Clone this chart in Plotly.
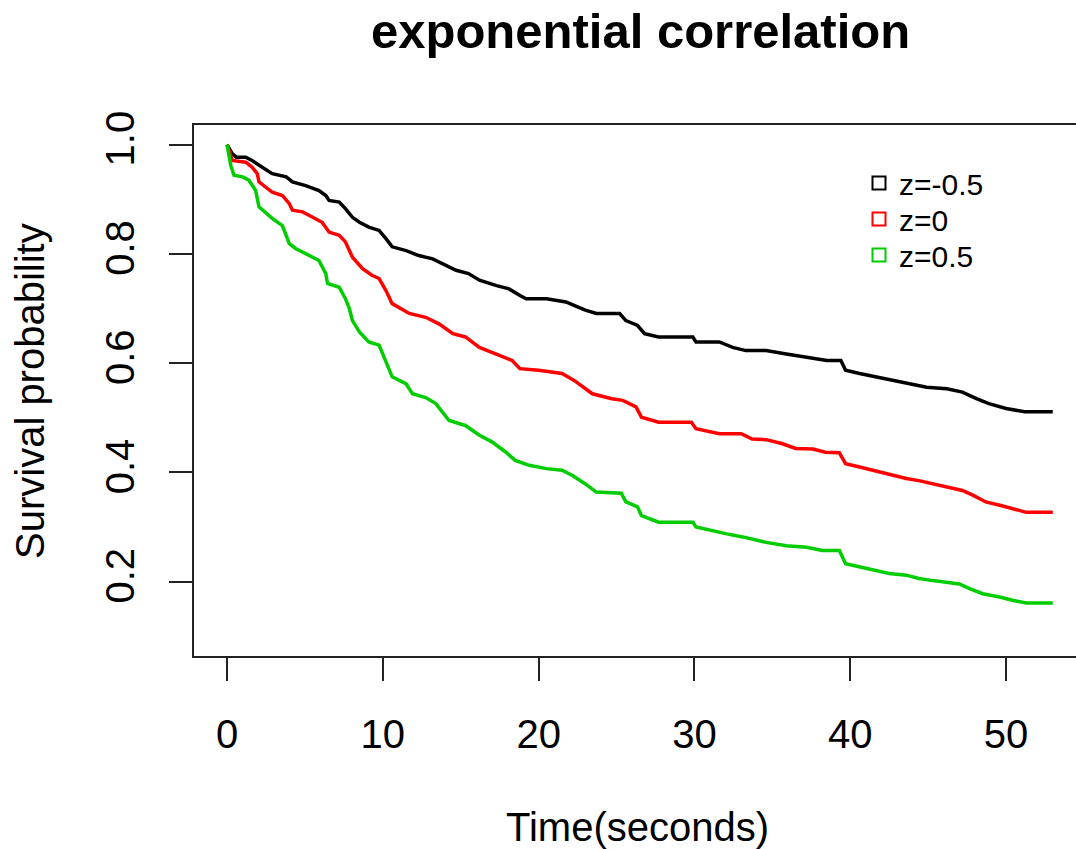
import plotly.graph_objects as go

# ---------------- data ----------------
t_neg = [0, 0.34, 0.6, 1.2, 1.6, 2.06, 2.5, 2.9, 3.8, 4.2, 5.05, 5.9, 6.34, 6.55, 7.2, 7.6,
         8.05, 8.5, 9.1, 9.76, 10.2, 10.6, 11.5, 12.3, 13.2, 14.05, 14.7, 15.5, 16.2, 17.3,
         18.1, 18.8, 19.2, 20.5, 21.75, 22.5, 23.0, 23.7, 25.2, 25.6, 26.35, 26.8, 27.7,
         29.9, 30.1, 31.6, 32.45, 33.3, 34.6, 35.9, 37.2, 38.5, 39.4, 39.7, 40.6, 41.7,
         42.7, 43.8, 44.9, 46.2, 47.2, 48.1, 48.9, 50.0, 51.2, 53.0]
s_neg = [1.0, 0.983, 0.977, 0.977, 0.971, 0.962, 0.953, 0.947, 0.941, 0.932, 0.925, 0.916,
         0.907, 0.898, 0.895, 0.883, 0.867, 0.858, 0.849, 0.843, 0.828, 0.813, 0.806, 0.797,
         0.791, 0.779, 0.770, 0.764, 0.752, 0.742, 0.736, 0.724, 0.718, 0.718, 0.712, 0.703,
         0.697, 0.691, 0.691, 0.678, 0.669, 0.654, 0.648, 0.648, 0.639, 0.639, 0.629, 0.623,
         0.623, 0.617, 0.611, 0.605, 0.605, 0.587, 0.581, 0.575, 0.568, 0.562, 0.556, 0.553,
         0.547, 0.535, 0.526, 0.517, 0.511, 0.511]

t_zero = [0, 0.34, 1.2, 1.6, 1.94, 2.05, 2.5, 2.9, 3.55, 4.0, 4.2, 4.85, 5.5, 6.1, 6.55, 7.2,
          7.6, 8.05, 8.7, 9.3, 9.76, 10.2, 10.6, 11.7, 12.75, 13.6, 14.5, 15.3, 16.2, 17.3,
          18.3, 18.8, 20.0, 21.5, 22.3, 23.45, 24.7, 25.4, 26.25, 26.6, 27.7, 29.8, 30.1,
          31.6, 33.0, 33.7, 34.6, 35.6, 36.5, 37.6, 38.4, 39.3, 39.7, 40.6, 41.9, 42.7, 43.6,
          44.4, 45.3, 46.4, 47.2, 47.9, 48.7, 49.6, 50.4, 51.3, 53.0]
s_zero = [1.0, 0.971, 0.968, 0.959, 0.947, 0.932, 0.922, 0.913, 0.907, 0.892, 0.880, 0.877,
          0.867, 0.858, 0.840, 0.834, 0.822, 0.794, 0.773, 0.761, 0.755, 0.733, 0.709, 0.691,
          0.684, 0.672, 0.654, 0.648, 0.629, 0.617, 0.605, 0.590, 0.587, 0.581, 0.568, 0.544,
          0.535, 0.532, 0.520, 0.501, 0.492, 0.492, 0.480, 0.471, 0.471, 0.461, 0.460, 0.453,
          0.444, 0.443, 0.437, 0.436, 0.416, 0.410, 0.401, 0.395, 0.389, 0.385, 0.379, 0.373,
          0.367, 0.358, 0.346, 0.340, 0.334, 0.327, 0.327]

t_pos = [0, 0.1, 0.24, 0.45, 1.0, 1.4, 1.84, 2.05, 2.5, 2.9, 3.55, 4.0, 4.4, 5.05, 5.9, 6.34,
         6.45, 7.2, 7.6, 7.85, 8.05, 8.5, 9.1, 9.76, 10.2, 10.6, 11.5, 11.9, 12.75, 13.4,
         14.25, 15.3, 16.2, 17.0, 17.9, 18.5, 19.4, 20.5, 21.5, 22.2, 23.0, 23.7, 25.3, 25.6,
         26.35, 26.6, 27.7, 29.9, 30.1, 30.95, 32.0, 33.1, 34.6, 35.9, 37.2, 38.2, 39.3,
         39.7, 40.6, 41.7, 42.5, 43.6, 44.4, 45.3, 46.4, 47.0, 47.7, 48.5, 49.6, 50.4, 51.3,
         53.0]
s_pos = [1.0, 0.984, 0.962, 0.944, 0.941, 0.935, 0.916, 0.886, 0.874, 0.865, 0.852, 0.819,
         0.810, 0.800, 0.788, 0.764, 0.746, 0.739, 0.718, 0.700, 0.678, 0.657, 0.639, 0.633,
         0.602, 0.575, 0.562, 0.544, 0.537, 0.526, 0.495, 0.486, 0.468, 0.456, 0.437, 0.422,
         0.413, 0.407, 0.404, 0.394, 0.379, 0.364, 0.362, 0.346, 0.337, 0.321, 0.309, 0.309,
         0.300, 0.294, 0.288, 0.282, 0.272, 0.266, 0.263, 0.257, 0.257, 0.233, 0.227, 0.221,
         0.215, 0.212, 0.206, 0.202, 0.199, 0.196, 0.187, 0.178, 0.172, 0.166, 0.161, 0.161]

series_names = ["z=-0.5", "z=0", "z=0.5"]
series_colors = ["#000000", "#FF0000", "#00CD00"]
x_ticks = [0, 10, 20, 30, 40, 50]
y_ticks = [0.2, 0.4, 0.6, 0.8, 1.0]
y_tick_text = ["0.2", "0.4", "0.6", "0.8", "1.0"]

title_text = "exponential correlation"
x_title = "Time(seconds)"
y_title = "Survival probability"

# ---------------- figure ----------------
W, H = 1076, 849
ML, MR, MT, MB = 194, 0, 125, 193
PW, PH = W - ML - MR, H - MT - MB

def px_x(px):
    return (px - ML) / PW

def px_y(py):
    return (H - MB - py) / PH

FONT = "Liberation Sans, Arial, sans-serif"
LEG_FONT = dict(family=FONT, size=30, color="#000000")

fig = go.Figure()
for t, s, name, col in zip([t_neg, t_zero, t_pos], [s_neg, s_zero, s_pos],
                           series_names, series_colors):
    fig.add_trace(go.Scatter(x=t, y=s, mode="lines", line=dict(color=col, width=3.5),
                             showlegend=False, hoverinfo="skip"))

legend_ids = ["legend", "legend2", "legend3"]
legend_centers = [183, 219, 255]
for name, col, lid in zip(series_names, series_colors, legend_ids):
    fig.add_trace(go.Scatter(x=[None], y=[None], mode="markers", name=name, legend=lid,
                             marker=dict(symbol="square-open", size=13, color=col,
                                         line=dict(color=col, width=2))))

axis_common = dict(showgrid=False, zeroline=False, showline=True, linecolor="#222222",
                   linewidth=2, ticks="outside", ticklen=23, tickwidth=2, tickcolor="#222222",
                   tickfont=dict(family=FONT, size=40, color="#000000"))

legend_layouts = {}
for lid, cy in zip(legend_ids, legend_centers):
    legend_layouts[lid] = dict(x=px_x(859), y=px_y(cy), xanchor="left", yanchor="middle",
                               bgcolor="rgba(0,0,0,0)", borderwidth=0, font=LEG_FONT)

fig.update_layout(
    width=W, height=H,
    margin=dict(l=ML, r=MR, t=MT, b=MB, pad=0),
    paper_bgcolor="white", plot_bgcolor="white",
    font=dict(family=FONT, color="#000000"),
    xaxis=dict(range=[-2.12, 54.49], tickvals=x_ticks, mirror=True,
               ticklabelstandoff=19, **axis_common),
    yaxis=dict(range=[0.064, 1.036], tickvals=y_ticks, ticktext=y_tick_text, mirror=False,
               tickangle=-90, ticklabelstandoff=19, **axis_common),
    showlegend=True,
    annotations=[
        dict(text="<b>" + title_text + "</b>", x=px_x(640), y=px_y(31), xref="paper",
             yref="paper", xanchor="center", yanchor="middle", showarrow=False,
             font=dict(family=FONT, size=49, color="#000000")),
        dict(text=x_title, x=px_x(637), y=px_y(827), xref="paper", yref="paper",
             xanchor="center", yanchor="middle", showarrow=False,
             font=dict(family=FONT, size=40, color="#000000")),
        dict(text=y_title, x=px_x(30), y=px_y(391), xref="paper", yref="paper",
             xanchor="center", yanchor="middle", showarrow=False, textangle=-90,
             font=dict(family=FONT, size=40, color="#000000")),
    ],
)
fig.update_layout(**legend_layouts)

fig.write_html("out.html")
